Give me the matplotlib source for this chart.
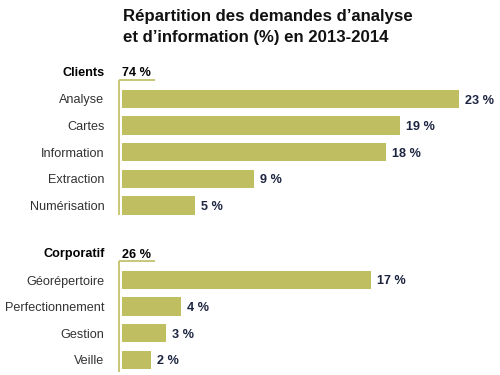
import matplotlib
matplotlib.use("Agg")
import matplotlib.pyplot as plt

plt.rcParams['font.family'] = ['Liberation Sans', 'DejaVu Sans']

title_lines = ["Répartition des demandes d’analyse", "et d’information (%) en 2013-2014"]
groups = ["Clients", "Corporatif"]
group_totals = ["74 %", "26 %"]
clients_cats = ["Analyse", "Cartes", "Information", "Extraction", "Numérisation"]
clients_vals = [23, 19, 18, 9, 5]
corp_cats = ["Géorépertoire", "Perfectionnement", "Gestion", "Veille"]
corp_vals = [17, 4, 3, 2]

BAR = '#BFBE60'
VAL = '#1c2440'
LAB = '#333333'

W, H = 500, 375
fig = plt.figure(figsize=(5, 3.75), dpi=100)
x0 = 122
ppu = 14.65
xmax = 25
ax = fig.add_axes([x0 / W, 0, xmax * ppu / W, 1])
ax.set_xlim(0, xmax)
ax.set_ylim(H, 0)
ax.axis('off')

step = 26.6
bar_h = 18.5
group_first = [99, 280]
data = [(clients_cats, clients_vals), (corp_cats, corp_vals)]

lx = (104.5 - x0) / ppu
vx = (119 - x0) / ppu
ux = (155 - x0) / ppu
FS = 9.1
cap = 4.5  # half cap height in px

for gi, (cats, vals) in enumerate(data):
    y0 = group_first[gi]
    ys = [y0 + step * i for i in range(len(cats))]
    ax.barh(ys, vals, height=bar_h, color=BAR, left=0)
    for y, c, v in zip(ys, cats, vals):
        ax.text(lx, y + cap, c, ha='right', va='baseline', fontsize=FS, color=LAB, clip_on=False)
        ax.text(v + 6 / ppu, y + cap, f"{v} %", ha='left', va='baseline', fontsize=FS,
                fontweight='bold', color=VAL, clip_on=False)
    hy = y0 - 22.5
    line_y = y0 - 19
    ax.text(lx, hy, groups[gi], ha='right', va='baseline', fontsize=FS,
            fontweight='bold', color='black', clip_on=False)
    ax.text(0, hy, group_totals[gi], ha='left', va='baseline', fontsize=FS,
            fontweight='bold', color='black', clip_on=False)
    ax.plot([vx, ux], [line_y, line_y], color=BAR, lw=1.2, clip_on=False,
            solid_capstyle='butt')
    ax.plot([vx, vx], [line_y, ys[-1] + bar_h / 2 + (3 if gi == 1 else 0)],
            color=BAR, lw=1.2, clip_on=False, solid_capstyle='butt')

for i, line in enumerate(title_lines):
    fig.text(123 / W, 1 - (21 + 21 * i) / H, line, ha='left', va='baseline',
             fontsize=12.1, fontweight='bold', color='#111111')

fig.savefig('out.png', dpi=100, facecolor='white')
